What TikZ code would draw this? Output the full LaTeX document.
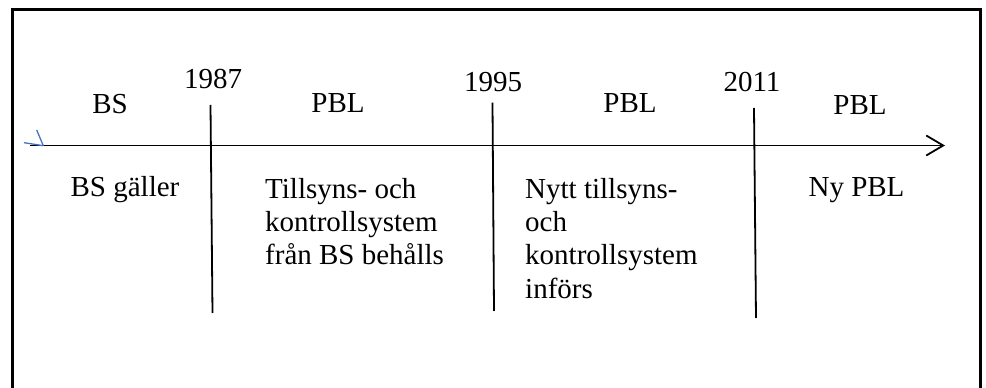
\documentclass[tikz,border=0pt]{standalone}
\usepackage{fontspec}
\setmainfont{Liberation Serif}
\usetikzlibrary{arrows.meta}
\definecolor{penblue}{RGB}{68,114,196}

\tikzset{
	lbl/.style={font=\fontsize{29}{33.3}\selectfont, anchor=base, inner sep=0pt},
	txt/.style={font=\fontsize{29}{33.3}\selectfont, anchor=north west, inner sep=0pt, align=left},
	tick/.style={line width=1.8pt},
}

\begin{document}
\begin{tikzpicture}[x=1pt,y=1pt]
	\useasboundingbox (0,0) rectangle (986,388);
	
	% ram
	\draw[line width=2.3pt] (12.5,0) -- (12.5,378.5) -- (980.5,378.5) -- (980.5,0);
	
	% tidslinje
	\coordinate (start) at (30,242.5);
	\coordinate (slut) at (945,242.5);
	\draw[line width=1.8pt, -{Straight Barb[length=17pt,width=20pt,line width=1.8pt]}] (start) -- (slut);
	\draw[penblue, line width=1.3pt] (24,245.3) -- (43.3,242.3);
	\draw[penblue, line width=1.3pt] (36.7,258) -- (43.3,242.3);
	
	% årtal
	\coordinate (a1) at (210.5,283);
	\coordinate (b1) at (212.5,75);
	\coordinate (a2) at (492.5,285.3);
	\coordinate (b2) at (494,77);
	\coordinate (a3) at (754,280);
	\coordinate (b3) at (756,70);
	\draw[tick] (a1) -- (b1);
	\draw[tick] (a2) -- (b2);
	\draw[tick] (a3) -- (b3);
	
	\node[lbl] (y1) at (213,299) {1987};
	\node[lbl] (y2) at (493,296) {1995};
	\node[lbl] (y3) at (752,296) {2011};
	
	% lagar
	\node[lbl] (l0) at (110,274.7) {BS};
	\node[lbl] (l1) at (338,275) {PBL};
	\node[lbl] (l2) at (630,275.3) {PBL};
	\node[lbl] (l3) at (860,273) {PBL};
	
	% beskrivning
	\node[lbl] (d0) at (125,191.3) {BS gäller};
	\node[txt] (d1) at (265,210) {Tillsyns- och\\kontrollsystem\\från BS behålls};
	\node[txt] (d2) at (525,210) {Nytt tillsyns-\\och\\kontrollsystem\\införs};
	\node[lbl] (d3) at (856.5,191.3) {Ny PBL};
	
\end{tikzpicture}
\end{document}
